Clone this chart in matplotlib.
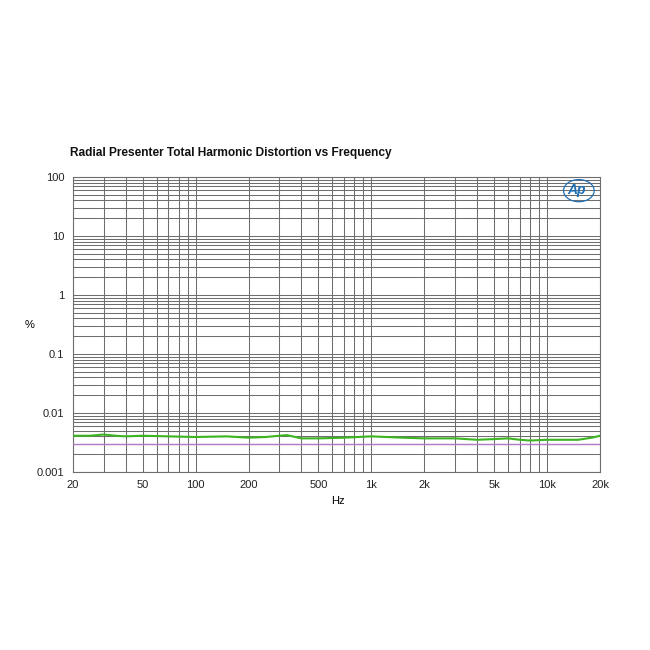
import matplotlib
matplotlib.use("Agg")
import matplotlib.pyplot as plt
from matplotlib.ticker import FixedLocator, NullFormatter, LogLocator
from matplotlib.patches import Ellipse

plt.rcParams['font.family'] = ['Liberation Sans', 'DejaVu Sans']

freq = [20, 25, 30, 35, 40, 50, 70, 100, 150, 200, 250, 300, 330, 400, 500, 700,
        1000, 1500, 2000, 3000, 4000, 5000, 6000, 7000, 8000, 10000, 15000, 18000, 20000]
thd_green = [0.0041, 0.0041, 0.0043, 0.0041, 0.0040, 0.0041, 0.0040, 0.0039, 0.0040, 0.0038,
             0.0039, 0.0041, 0.0042, 0.0037, 0.0037, 0.0038, 0.0040, 0.0038, 0.0037, 0.0037,
             0.0035, 0.0036, 0.0037, 0.0035, 0.0034, 0.0035, 0.0035, 0.0038, 0.0041]
thd_purple = [0.003, 0.003]
purple_freq = [20, 20000]

xticks = [20, 50, 100, 200, 500, 1000, 2000, 5000, 10000, 20000]
xticklabels = ["20", "50", "100", "200", "500", "1k", "2k", "5k", "10k", "20k"]
yticks = [0.001, 0.01, 0.1, 1, 10, 100]
yticklabels = ["0.001", "0.01", "0.1", "1", "10", "100"]

fig = plt.figure(figsize=(6.5, 6.5), dpi=100)
ax = fig.add_axes([0.112, 0.274, 0.811, 0.454])
ax.set_xscale("log")
ax.set_yscale("log")
ax.set_xlim(20, 20000)
ax.set_ylim(0.001, 100)

ax.xaxis.set_major_locator(FixedLocator(xticks))
ax.set_xticklabels(xticklabels)
ax.xaxis.set_minor_locator(LogLocator(base=10, subs=range(1, 10), numticks=100))
ax.xaxis.set_minor_formatter(NullFormatter())
ax.yaxis.set_major_locator(FixedLocator(yticks))
ax.set_yticklabels(yticklabels)
ax.yaxis.set_minor_locator(LogLocator(base=10, subs=range(1, 10), numticks=100))
ax.yaxis.set_minor_formatter(NullFormatter())

ax.grid(True, which="both", color="#6e6e6e", linewidth=0.75)
ax.tick_params(which="both", length=0, labelsize=8, colors="#222222", pad=6)
for s in ax.spines.values():
    s.set_color("#6e6e6e")
    s.set_linewidth(0.8)

ax.plot(purple_freq, thd_purple, color="#b07cc6", linewidth=1.0, zorder=3)
ax.plot(freq, thd_green, color="#3cb521", linewidth=1.5, zorder=4)

fig.text(0.108, 0.765, "Radial Presenter Total Harmonic Distortion vs Frequency",
         fontsize=8.6, fontweight="bold", color="#111111", ha="left", va="center")
fig.text(0.046, 0.5, "%", fontsize=8, ha="center", va="center")
fig.text(0.52, 0.229, "Hz", fontsize=8, ha="center", va="center")

# Ap logo
ax.text(0.955, 0.955, "Ap", transform=ax.transAxes, fontsize=10, fontstyle="italic",
        fontweight="bold", color="#1f6fb5", ha="center", va="center", zorder=6)
ax.add_patch(Ellipse((0.96, 0.953), 0.058, 0.075, transform=ax.transAxes,
                     fill=False, edgecolor="#1f6fb5", linewidth=0.9, zorder=6))

fig.savefig("out.png", dpi=100, facecolor="white")
